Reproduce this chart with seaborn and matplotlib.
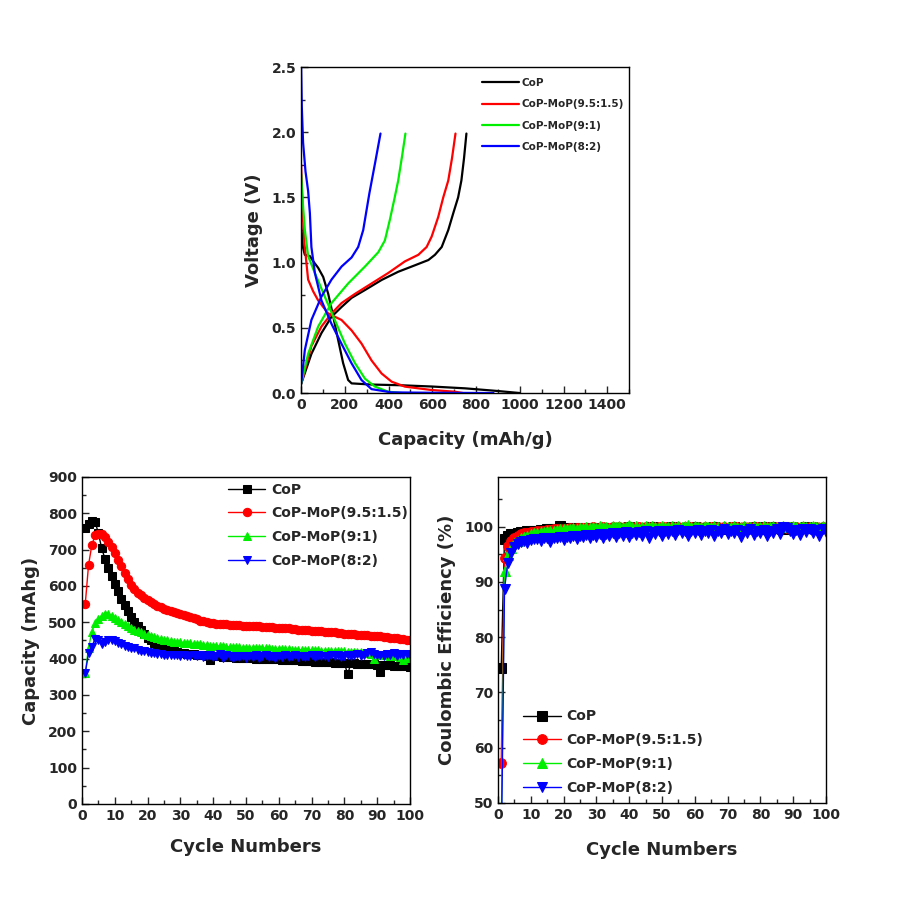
import numpy as np
import pandas as pd
import matplotlib
matplotlib.use("Agg")
import matplotlib.pyplot as plt
from matplotlib.ticker import MultipleLocator
import seaborn as sns

sns.set_style("ticks")
plt.rcParams['font.family'] = ['DejaVu Sans']
plt.rcParams['font.weight'] = 'bold'
plt.rcParams['axes.labelweight'] = 'bold'

# ---- data ----
names = ['CoP', 'CoP-MoP(9.5:1.5)', 'CoP-MoP(9:1)', 'CoP-MoP(8:2)']
colors = ['#000000', '#ff0000', '#00ee00', '#0000ff']
markers = ['s', 'o', '^', 'v']

# voltage profiles (capacity mAh/g, voltage V)
dis_cap_cop = [0, 8, 17, 40, 60, 78, 101, 124, 147, 169, 192, 215, 231, 322, 450, 597, 750, 903, 1000]
dis_v_cop = [1.30, 1.12, 1.06, 1.05, 1.00, 0.96, 0.89, 0.76, 0.585, 0.41, 0.23, 0.10, 0.074, 0.065, 0.06, 0.05, 0.036, 0.015, 0.0]
chg_cap_cop = [0, 47, 93, 139, 185, 231, 292, 368, 444, 521, 582, 612, 643, 673, 696, 718, 733, 745, 756]
chg_v_cop = [0.07, 0.30, 0.46, 0.585, 0.66, 0.73, 0.79, 0.867, 0.93, 0.98, 1.02, 1.06, 1.12, 1.25, 1.38, 1.50, 1.63, 1.80, 1.99]

dis_cap_963 = [0, 3, 8, 15, 32, 55, 78, 124, 185, 231, 276, 322, 368, 414, 475, 597, 704, 740]
dis_v_963 = [1.75, 1.60, 1.35, 1.15, 0.87, 0.78, 0.71, 0.61, 0.56, 0.48, 0.38, 0.25, 0.15, 0.087, 0.049, 0.023, 0.01, 0.0]
chg_cap_963 = [0, 47, 93, 139, 185, 246, 322, 398, 475, 536, 574, 597, 627, 650, 673, 690, 706]
chg_v_963 = [0.07, 0.36, 0.51, 0.61, 0.69, 0.76, 0.84, 0.92, 1.01, 1.06, 1.12, 1.20, 1.35, 1.50, 1.63, 1.80, 1.99]

dis_cap_91 = [0, 9, 17, 32, 63, 108, 154, 200, 246, 292, 337, 398, 460]
dis_v_91 = [1.68, 1.43, 1.25, 1.05, 0.92, 0.74, 0.56, 0.38, 0.23, 0.11, 0.05, 0.01, 0.0]
chg_cap_91 = [0, 32, 78, 139, 215, 292, 353, 383, 406, 428, 444, 462, 477]
chg_v_91 = [0.07, 0.30, 0.51, 0.69, 0.84, 0.97, 1.08, 1.17, 1.33, 1.50, 1.63, 1.82, 1.99]

dis_cap_82 = [0, 3, 9, 20, 32, 40, 47, 63, 93, 139, 184, 230, 276, 322, 413, 600, 880]
dis_v_82 = [2.5, 2.2, 1.92, 1.70, 1.55, 1.38, 1.12, 0.92, 0.71, 0.53, 0.38, 0.23, 0.10, 0.03, 0.005, 0.002, 0.0]
chg_cap_82 = [0, 17, 47, 93, 139, 185, 231, 261, 284, 299, 312, 340, 363]
chg_v_82 = [0.07, 0.33, 0.56, 0.74, 0.87, 0.97, 1.04, 1.12, 1.25, 1.40, 1.53, 1.78, 1.99]

# cycling capacity (mAh/g)
cycles = list(range(1, 101))
cap_cop = [759, 772, 780, 777, 745, 704, 675, 650, 627, 605,
           585, 565, 547, 530, 515, 502, 490, 479, 468, 458,
           450, 443, 437, 432, 428, 425, 422, 420, 418, 416,
           415, 414, 413, 412, 411, 410, 409, 408, 396, 407,
           406, 406, 405, 405, 404, 404, 403, 403, 402, 402,
           401, 401, 400, 400, 400, 399, 399, 398, 398, 398,
           397, 397, 396, 396, 395, 395, 394, 394, 393, 393,
           392, 392, 391, 391, 390, 390, 389, 389, 388, 388,
           357, 387, 387, 386, 386, 385, 385, 384, 384, 383,
           362, 383, 382, 382, 381, 381, 380, 380, 379, 378]
cap_963 = [551, 658, 713, 739, 743, 742, 734, 722, 707, 690,
           672, 654, 636, 619, 604, 592, 582, 574, 567, 561,
           556, 551, 546, 542, 538, 535, 532, 529, 526, 523,
           520, 517, 514, 511, 508, 505, 503, 501, 499, 497,
           496, 495, 494, 494, 493, 493, 492, 492, 491, 491,
           490, 490, 489, 489, 488, 488, 487, 486, 485, 484,
           484, 483, 483, 482, 481, 480, 480, 479, 478, 477,
           477, 476, 475, 474, 473, 472, 472, 471, 470, 469,
           469, 468, 467, 466, 466, 465, 464, 463, 462, 462,
           461, 460, 459, 458, 457, 456, 455, 454, 452, 451]
cap_91 = [361, 430, 474, 498, 510, 518, 524, 522, 518, 512,
          506, 500, 494, 489, 484, 480, 476, 472, 468, 465,
          462, 459, 457, 455, 452, 450, 449, 447, 446, 445,
          444, 443, 442, 441, 440, 439, 438, 437, 436, 436,
          435, 434, 434, 433, 432, 432, 431, 431, 430, 430,
          430, 429, 429, 429, 428, 428, 428, 427, 427, 427,
          426, 426, 426, 425, 425, 425, 424, 424, 424, 423,
          423, 423, 422, 422, 422, 421, 421, 421, 420, 420,
          419, 419, 418, 418, 417, 416, 415, 414, 400, 412,
          411, 410, 409, 408, 407, 406, 405, 395, 403, 402]
cap_82 = [361, 415, 433, 455, 452, 440, 447, 452, 451, 448,
          444, 440, 436, 433, 430, 428, 425, 422, 420, 418,
          416, 415, 413, 412, 411, 410, 410, 409, 409, 408,
          410, 407, 408, 411, 406, 409, 404, 408, 410, 405,
          407, 412, 403, 410, 406, 402, 408, 404, 406, 403,
          407, 404, 409, 402, 406, 410, 404, 407, 403, 408,
          405, 409, 404, 407, 410, 405, 408, 404, 407, 409,
          405, 410, 406, 408, 404, 409, 407, 411, 405, 408,
          410, 406, 409, 412, 407, 410, 415, 418, 413, 409,
          411, 408, 413, 410, 415, 407, 412, 409, 414, 410]

# coulombic efficiency (%)
ce_cop = [74.5, 97.8, 98.4, 98.6, 98.7, 98.9, 99.0, 99.1, 99.2, 99.2,
          99.3, 99.3, 99.4, 99.4, 99.5, 99.5, 99.6, 99.6, 100.1, 99.6,
          99.7, 99.6, 99.7, 99.8, 99.6, 99.7, 99.8, 99.7, 99.6, 99.8,
          99.7, 99.8, 99.6, 99.7, 99.8, 99.7, 99.6, 99.8, 99.7, 99.9,
          99.7, 99.8, 99.6, 99.7, 99.8, 99.7, 99.9, 99.7, 99.8, 99.6,
          99.8, 99.7, 99.9, 99.7, 99.8, 99.7, 99.6, 99.8, 99.7, 99.9,
          99.7, 99.8, 99.6, 99.8, 99.7, 99.9, 99.7, 99.8, 99.6, 99.8,
          99.7, 99.9, 99.7, 99.8, 99.6, 99.7, 99.8, 99.7, 99.9, 99.7,
          99.8, 99.6, 99.9, 99.7, 99.8, 99.7, 99.6, 99.9, 99.7, 99.8,
          99.6, 99.8, 99.7, 99.9, 99.7, 99.8, 99.6, 99.8, 99.7, 99.8]
ce_963 = [57.2, 94.4, 96.5, 97.5, 98.0, 98.3, 98.6, 98.8, 98.9, 99.0,
          99.1, 99.2, 99.3, 99.3, 99.4, 99.4, 99.5, 99.5, 99.5, 99.6,
          99.6, 99.7, 99.6, 99.7, 99.8, 99.7, 99.8, 99.7, 99.9, 99.8,
          99.7, 99.9, 99.8, 99.7, 99.9, 99.8, 100.0, 99.8, 99.9, 99.7,
          99.9, 99.8, 100.0, 99.8, 99.9, 99.7, 99.9, 99.8, 100.0, 99.8,
          99.9, 99.7, 99.9, 99.8, 100.0, 99.8, 99.9, 99.7, 99.9, 99.8,
          100.0, 99.8, 99.9, 99.7, 99.9, 99.8, 100.0, 99.8, 99.9, 99.7,
          99.9, 99.8, 100.0, 99.8, 99.9, 99.7, 99.9, 99.8, 100.0, 99.8,
          99.9, 99.7, 99.9, 99.8, 100.0, 99.8, 99.9, 99.7, 99.9, 99.8,
          100.0, 99.8, 99.9, 99.7, 99.9, 99.8, 100.0, 99.8, 99.9, 99.8]
ce_91 = [45.0, 91.9, 94.8, 96.2, 97.0, 97.5, 97.9, 98.2, 98.4, 98.6,
         98.8, 98.9, 99.0, 99.1, 99.2, 99.3, 99.3, 99.4, 99.5, 99.5,
         99.6, 99.5, 99.7, 99.6, 99.8, 99.7, 99.9, 99.8, 100.0, 99.8,
         100.1, 99.9, 100.0, 99.8, 100.1, 99.9, 100.2, 99.9, 100.0, 100.3,
         99.9, 100.1, 99.8, 100.0, 100.2, 99.9, 100.1, 100.0, 99.9, 100.2,
         100.0, 99.9, 100.1, 100.0, 100.2, 99.9, 100.1, 100.4, 99.9, 100.1,
         100.0, 99.9, 100.2, 100.0, 99.9, 100.1, 100.0, 99.8, 100.1, 100.0,
         99.9, 100.2, 100.0, 99.9, 100.1, 99.9, 100.0, 100.2, 99.9, 100.0,
         100.1, 99.9, 100.0, 100.2, 99.9, 100.0, 100.1, 99.9, 100.0, 100.2,
         99.9, 100.0, 100.1, 99.9, 100.0, 100.1, 99.9, 100.0, 100.1, 100.0]
ce_82 = [40.0, 88.8, 93.4, 95.3, 96.3, 96.9, 97.2, 97.4, 97.0, 97.6,
         97.7, 97.8, 97.5, 97.9, 98.0, 97.2, 98.0, 97.9, 98.1, 97.6,
         98.2, 98.0, 98.3, 97.7, 98.4, 98.1, 98.5, 97.9, 98.5, 98.2,
         98.6, 98.0, 98.7, 98.3, 98.8, 98.1, 98.9, 98.4, 99.0, 98.2,
         98.9, 98.5, 99.1, 98.3, 99.2, 98.0, 99.1, 98.6, 99.3, 98.4,
         99.2, 98.7, 99.3, 98.5, 99.4, 98.8, 99.2, 98.4, 99.3, 98.9,
         99.4, 98.5, 99.3, 98.8, 99.4, 98.3, 99.3, 98.9, 99.5, 98.6,
         99.3, 98.8, 99.4, 98.2, 99.3, 98.9, 99.5, 98.5, 99.2, 98.9,
         99.4, 98.3, 99.3, 98.8, 99.5, 98.6, 99.9, 99.7, 99.3, 98.7,
         99.4, 98.5, 99.6, 99.0, 99.5, 98.8, 99.4, 98.3, 99.5, 99.0]

dis_caps = [dis_cap_cop, dis_cap_963, dis_cap_91, dis_cap_82]
dis_vs = [dis_v_cop, dis_v_963, dis_v_91, dis_v_82]
chg_caps = [chg_cap_cop, chg_cap_963, chg_cap_91, chg_cap_82]
chg_vs = [chg_v_cop, chg_v_963, chg_v_91, chg_v_82]
caps = [cap_cop, cap_963, cap_91, cap_82]
ces = [ce_cop, ce_963, ce_91, ce_82]

# ---- figure ----
fig = plt.figure(figsize=(9.07, 9.0), dpi=100)
ax_v = fig.add_axes([0.332, 0.5633, 0.3616, 0.3622])
ax_c = fig.add_axes([0.0904, 0.1067, 0.3616, 0.3633])
ax_e = fig.add_axes([0.549, 0.1078, 0.3616, 0.3622])


def style_axes(ax):
    for sp in ax.spines.values():
        sp.set_visible(True)
        sp.set_linewidth(1.0)
        sp.set_color('black')
    ax.tick_params(which='both', direction='in', top=False, right=False,
                   labelsize=10, width=1.0)
    ax.tick_params(which='major', length=5)
    ax.tick_params(which='minor', length=3)


# 1. voltage profiles
for i in range(4):
    sns.lineplot(x=dis_caps[i], y=dis_vs[i], sort=False, color=colors[i],
                 lw=1.6, solid_joinstyle='round', label=names[i], ax=ax_v)
    sns.lineplot(x=chg_caps[i], y=chg_vs[i], sort=False, color=colors[i],
                 lw=1.6, solid_joinstyle='round', ax=ax_v)
ax_v.set_xlim(0, 1500)
ax_v.set_ylim(0, 2.5)
ax_v.xaxis.set_major_locator(MultipleLocator(200))
ax_v.xaxis.set_minor_locator(MultipleLocator(100))
ax_v.yaxis.set_major_locator(MultipleLocator(0.5))
ax_v.yaxis.set_minor_locator(MultipleLocator(0.25))
ax_v.set_xlabel('Capacity (mAh/g)', fontsize=13, labelpad=14)
ax_v.set_ylabel('Voltage (V)', fontsize=13, labelpad=6)
style_axes(ax_v)
ax_v.legend(loc='upper left', bbox_to_anchor=(0.54, 0.98), frameon=False,
            fontsize=7.5, handlelength=3.5, handletextpad=0.3,
            labelspacing=1.1, borderaxespad=0)

# 2. cycling capacity
for i in range(4):
    sns.lineplot(x=cycles, y=caps[i], color=colors[i], marker=markers[i],
                 markersize=6, markeredgecolor=colors[i], lw=1.0,
                 label=names[i], ax=ax_c)
ax_c.set_xlim(0, 100)
ax_c.set_ylim(0, 900)
ax_c.xaxis.set_major_locator(MultipleLocator(10))
ax_c.xaxis.set_minor_locator(MultipleLocator(5))
ax_c.yaxis.set_major_locator(MultipleLocator(100))
ax_c.yaxis.set_minor_locator(MultipleLocator(50))
ax_c.set_xlabel('Cycle Numbers', fontsize=13, labelpad=11)
ax_c.set_ylabel('Capacity (mAhg)', fontsize=13, labelpad=6)
style_axes(ax_c)
ax_c.legend(loc='upper left', bbox_to_anchor=(0.428, 1.0), frameon=False,
            fontsize=10, handlelength=2.7, handletextpad=0.4,
            labelspacing=0.7, borderaxespad=0.0)

# 3. coulombic efficiency
for i in range(4):
    sns.lineplot(x=cycles, y=ces[i], color=colors[i], marker=markers[i],
                 markersize=7, markeredgecolor=colors[i], lw=1.0,
                 label=names[i], ax=ax_e)
ax_e.set_xlim(0, 100)
ax_e.set_ylim(50, 109)
ax_e.xaxis.set_major_locator(MultipleLocator(10))
ax_e.xaxis.set_minor_locator(MultipleLocator(5))
ax_e.set_yticks([50, 60, 70, 80, 90, 100])
ax_e.yaxis.set_minor_locator(MultipleLocator(5))
ax_e.set_xlabel('Cycle Numbers', fontsize=13, labelpad=14)
ax_e.set_ylabel('Coulombic Efficiency (%)', fontsize=13, labelpad=6)
style_axes(ax_e)
ax_e.legend(loc='lower left', bbox_to_anchor=(0.052, 0.0), frameon=False,
            fontsize=10, handlelength=2.7, handletextpad=0.4,
            labelspacing=0.7, borderaxespad=0.2)

fig.savefig('out.png', dpi=100)
